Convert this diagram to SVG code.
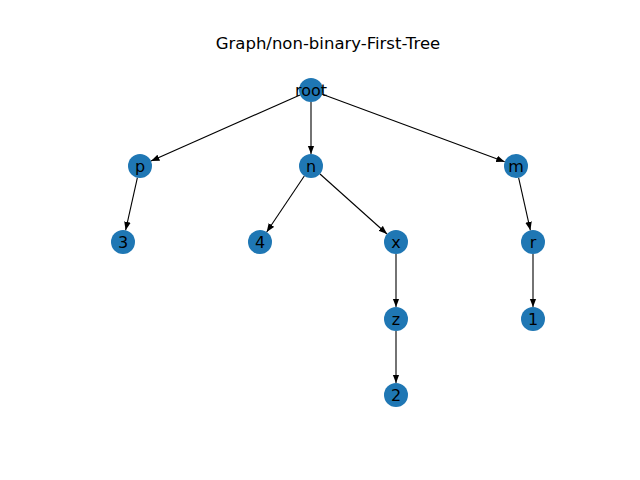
<svg xmlns="http://www.w3.org/2000/svg" width="640" height="480" viewBox="0 0 640 480">
  <style>
    .node circle { fill: #1f77b4; }
    .node text { font-family: "DejaVu Sans", sans-serif; font-size: 16px; fill: #000; text-anchor: middle; dominant-baseline: central; }
    .edge { stroke: #000; stroke-width: 1.1; fill: none; marker-end: url(#head); }
    .title { font-family: "DejaVu Sans", sans-serif; font-size: 16.5px; fill: #000; text-anchor: middle; }
  </style>
  <defs>
    <marker id="head" markerUnits="userSpaceOnUse" markerWidth="10" markerHeight="8" refX="8.5" refY="3.5" orient="auto">
      <path d="M0,0.2 L8.5,3.5 L0,6.8 Z" fill="#000"/>
    </marker>
  </defs>
  <rect width="640" height="480" fill="#fff"/>
  <text class="title" x="328" y="49">Graph/non-binary-First-Tree</text>

  <g id="edges">
    <line class="edge" x1="300.0" y1="94.9" x2="151.0" y2="161.1"/>
    <line class="edge" x1="311" y1="102" x2="311" y2="154"/>
    <line class="edge" x1="322.3" y1="94.2" x2="504.7" y2="161.8"/>
    <line class="edge" x1="137.4" y1="177.7" x2="125.6" y2="230.3"/>
    <line class="edge" x1="304.3" y1="176.0" x2="266.7" y2="232.0"/>
    <line class="edge" x1="320.0" y1="174.0" x2="387.0" y2="234.0"/>
    <line class="edge" x1="518.6" y1="177.7" x2="530.4" y2="230.3"/>
    <line class="edge" x1="396" y1="254" x2="396" y2="307"/>
    <line class="edge" x1="533" y1="254" x2="533" y2="307"/>
    <line class="edge" x1="396" y1="331" x2="396" y2="383"/>
  </g>

  <g id="node-root" class="node"><circle cx="311" cy="90" r="12"/><text x="311" y="90">root</text></g>
  <g id="node-p" class="node"><circle cx="140" cy="166" r="12"/><text x="140" y="166">p</text></g>
  <g id="node-n" class="node"><circle cx="311" cy="166" r="12"/><text x="311" y="166">n</text></g>
  <g id="node-m" class="node"><circle cx="516" cy="166" r="12"/><text x="516" y="166">m</text></g>
  <g id="node-3" class="node"><circle cx="123" cy="242" r="12"/><text x="123" y="242">3</text></g>
  <g id="node-4" class="node"><circle cx="260" cy="242" r="12"/><text x="260" y="242">4</text></g>
  <g id="node-x" class="node"><circle cx="396" cy="242" r="12"/><text x="396" y="242">x</text></g>
  <g id="node-r" class="node"><circle cx="533" cy="242" r="12"/><text x="533" y="242">r</text></g>
  <g id="node-z" class="node"><circle cx="396" cy="319" r="12"/><text x="396" y="319">z</text></g>
  <g id="node-1" class="node"><circle cx="533" cy="319" r="12"/><text x="533" y="319">1</text></g>
  <g id="node-2" class="node"><circle cx="396" cy="395" r="12"/><text x="396" y="395">2</text></g>
</svg>
